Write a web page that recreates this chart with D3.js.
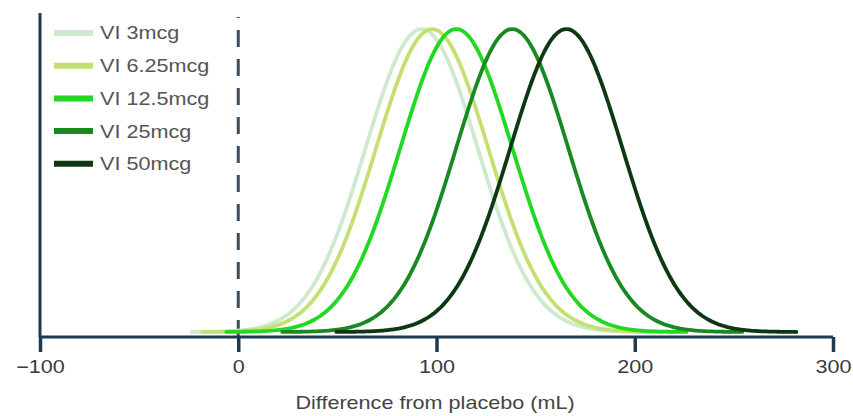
<!DOCTYPE html>
<html>
<head>
<meta charset="utf-8">
<script src="https://cdn.jsdelivr.net/npm/d3@7"></script>
<style>
  html, body { margin: 0; padding: 0; background: #fff; }
  svg { display: block; font-family: "Liberation Sans", Arial, sans-serif; }
</style>
</head>
<body>
<svg id="chart" width="853" height="416"></svg>
<script>
// Doses and their estimated difference from placebo (mL): mean and SD
const doses = ["VI 3mcg", "VI 6.25mcg", "VI 12.5mcg", "VI 25mcg", "VI 50mcg"];
const means = [92.5, 97.8, 110, 138.2, 165.5];
const sds = [28.3, 28.3, 28.3, 28.3, 28.3];
const colors = ["#cdeacf", "#c4e072", "#22d822", "#198a21", "#0d3812"];
const xTicks = [-100, 0, 100, 200, 300];
const xTitle = "Difference from placebo (mL)";

const svg = d3.select("#chart");
const axisColor = "#1d3a52";
const stretch = "scale(1.2,1)";

const x = d3.scaleLinear().domain([-100, 300]).range([40, 833]);

// normal density for each dose, sampled across ±4.1 SD
const pdf = (v, m, s) => Math.exp(-0.5 * ((v - m) / s) ** 2) / (s * Math.sqrt(2 * Math.PI));
const curves = doses.map((name, i) => {
  const lo = means[i] - 4.1 * sds[i], hi = means[i] + 4.1 * sds[i];
  const pts = d3.range(0, 201).map(k => {
    const v = lo + (hi - lo) * k / 200;
    return [v, pdf(v, means[i], sds[i])];
  });
  return { name, color: colors[i], pts };
});
const peak = d3.max(curves, c => d3.max(c.pts, p => p[1]));
const y = d3.scaleLinear().domain([0, peak]).range([332, 29]);

// vertical axis line
svg.append("line")
  .attr("x1", 40).attr("x2", 40).attr("y1", 13).attr("y2", 337)
  .attr("stroke", axisColor).attr("stroke-width", 3);

// reference line at zero
svg.append("line")
  .attr("x1", x(0)).attr("x2", x(0)).attr("y1", 337).attr("y2", 17)
  .attr("stroke", "#3b4d5e").attr("stroke-width", 3)
  .attr("stroke-dasharray", "17,12");

// curves
const line = d3.line().x(d => x(d[0])).y(d => y(d[1])).curve(d3.curveBasis);
svg.append("g").selectAll("path").data(curves).join("path")
  .attr("d", d => line(d.pts))
  .attr("fill", "none")
  .attr("stroke", d => d.color)
  .attr("stroke-width", 3.8)
  .attr("stroke-linecap", "round");

// x axis
const xAxis = d3.axisBottom(x).tickValues(xTicks).tickSize(15).tickPadding(6)
  .tickFormat(d => d < 0 ? "\u2212" + Math.abs(d) : String(d));
const gx = svg.append("g").attr("transform", "translate(0,337)").call(xAxis);
gx.select(".domain").attr("stroke", axisColor).attr("stroke-width", 3)
  .attr("d", `M40,0H833`);
gx.selectAll(".tick line").attr("stroke", axisColor).attr("stroke-width", 3.5);
gx.selectAll(".tick text").attr("fill", "#3a3a3a").attr("font-size", 18)
  .attr("y", 23).attr("dy", "0.71em")
  .attr("transform", stretch)
  .attr("font-family", "Liberation Sans, Arial, sans-serif");

svg.append("g").attr("transform", "translate(435,409)")
  .append("text")
  .attr("transform", stretch)
  .attr("text-anchor", "middle")
  .attr("fill", "#444").attr("font-size", 18)
  .text(xTitle);

// legend
const lg = svg.append("g").selectAll("g").data(curves).join("g")
  .attr("transform", (d, i) => `translate(54,${33 + i * 32.7})`);
lg.append("line").attr("x1", 0).attr("x2", 39).attr("y1", 0).attr("y2", 0)
  .attr("stroke", d => d.color).attr("stroke-width", 6);
lg.append("g").attr("transform", "translate(46,0)")
  .append("text").attr("dy", "0.36em")
  .attr("transform", stretch)
  .attr("fill", "#555").attr("font-size", 18)
  .text(d => d.name);
</script>
</body>
</html>
